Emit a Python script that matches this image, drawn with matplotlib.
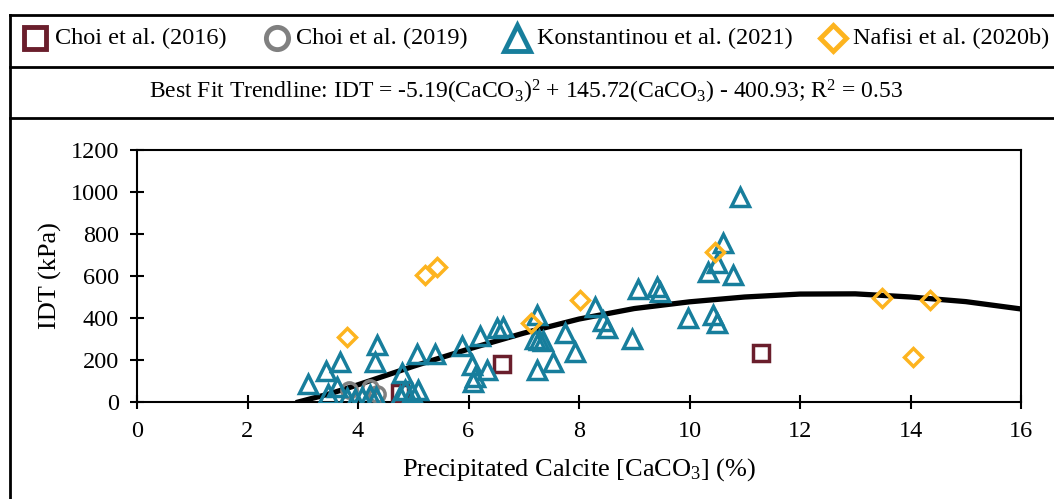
import matplotlib.pyplot as plt
from matplotlib.lines import Line2D

plt.rcParams['font.family'] = ['Liberation Serif', 'DejaVu Serif']
plt.rcParams['mathtext.fontset'] = 'custom'
plt.rcParams['mathtext.rm'] = 'Liberation Serif'
plt.rcParams['mathtext.it'] = 'Liberation Serif:italic'

# Choi et al. (2016)
choi16_x = [4.76, 6.61, 11.3]
choi16_y = [45, 180, 232]

# Choi et al. (2019)
choi19_x = [3.83, 4.22, 4.35]
choi19_y = [57, 67, 40]

# Konstantinou et al. (2021)
kons_x = [3.10, 3.42, 3.67, 3.62, 4.34, 4.31, 3.45, 3.80, 3.95, 4.08, 4.22, 4.32,
          4.80, 4.76, 4.85, 4.98, 5.09, 5.07, 5.39, 5.88, 6.21, 6.52, 6.62,
          6.06, 6.12, 6.09, 6.33, 7.24, 7.20, 7.28, 7.35, 7.24, 7.53, 7.75,
          7.93, 8.29, 8.43, 8.51, 8.96, 9.07, 9.41, 9.47, 9.97, 10.33, 10.42,
          10.50, 10.50, 10.61, 10.79, 10.91]
kons_y = [88, 150, 192, 72, 271, 190, 40, 20, 12, 25, 33, 25,
          138, 30, 57, 43, 57, 230, 230, 266, 315, 352, 357,
          176, 119, 95, 152, 415, 300, 295, 290, 152, 190, 329,
          240, 452, 385, 352, 298, 536, 548, 524, 400, 619, 414,
          376, 662, 757, 605, 976]

# Nafisi et al. (2020b)
nafisi_x = [3.80, 5.22, 5.43, 7.13, 8.02, 10.46, 13.48, 14.05, 14.35]
nafisi_y = [310, 607, 645, 376, 486, 716, 493, 214, 488]

# best fit trendline as drawn
trend_x = [2.92, 3.5, 4, 5, 6, 7, 8, 9, 10, 11, 12, 13, 14, 15, 16]
trend_y = [0, 40, 82, 170, 252, 328, 395, 445, 477, 500, 514, 515, 500, 478, 443]

labels = ['Choi et al. (2016)', 'Choi et al. (2019)', 'Konstantinou et al. (2021)',
          'Nafisi et al. (2020b)']

maroon = '#6A1E2C'
grey = '#808080'
teal = '#177E9C'
amber = '#FDB41F'

W, H = 1054, 499
fig = plt.figure(figsize=(W / 100, H / 100), dpi=100)
ax = fig.add_axes([137 / W, 1 - 402 / H, (1021 - 137) / W, (402 - 150) / H])

ax.plot(trend_x, trend_y, color='black', lw=3.8, zorder=1)
mkw = dict(ls='none', mfc='none', mew=2.5, zorder=3)
ax.plot(choi16_x, choi16_y, marker='s', ms=11, mec=maroon, **mkw)
ax.plot(choi19_x, choi19_y, marker='o', ms=11, mec=grey, **mkw)
ax.plot(kons_x, kons_y, marker='^', ms=13.5, mec=teal, **mkw)
ax.plot(nafisi_x, nafisi_y, marker='D', ms=9.5, mec=amber, **mkw)

ax.set_xlim(0, 16)
ax.set_ylim(0, 1200)
ax.set_xticks(range(0, 17, 2))
ax.set_yticks(range(0, 1201, 200))
ax.tick_params(direction='inout', length=10, width=1.5, labelsize=17.5)
ax.tick_params(axis='x', pad=9)
ax.tick_params(axis='y', pad=8)
for s in ax.spines.values():
    s.set_linewidth(1.5)
ax.set_xlabel(r'Precipitated Calcite [CaCO$_\mathrm{3}$] (%)', fontsize=19, labelpad=10)
ax.set_ylabel('IDT (kPa)', fontsize=19, labelpad=6)

# outer frame and header boxes
for yy in [1 - 15 / H, 1 - 67 / H, 1 - 118 / H]:
    fig.add_artist(Line2D([10 / W, 1], [yy, yy], color='black', lw=2, transform=fig.transFigure))
fig.add_artist(Line2D([10 / W, 10 / W], [0, 1 - 15 / H], color='black', lw=2,
                      transform=fig.transFigure))

# legend row, placed item by item
leg_markers = [('s', 16, maroon), ('o', 16, grey), ('^', 19, teal), ('D', 13, amber)]
marker_px = [35, 277, 517, 833]
text_px = [55, 296, 537, 853]
ly = 1 - 38 / H
for (m, ms, c), mx, tx, lab in zip(leg_markers, marker_px, text_px, labels):
    fig.add_artist(Line2D([mx / W], [ly], marker=m, ms=ms, mec=c, mfc='none', mew=3.5,
                          ls='none', transform=fig.transFigure))
    fig.text(tx / W, ly, lab, ha='left', va='center', fontsize=17.5)

fig.text(526 / W, 1 - 92 / H,
         r'Best Fit Trendline: IDT = -5.19(CaCO$_\mathrm{3}$)$^\mathrm{2}$ + 145.72(CaCO$_\mathrm{3}$) - 400.93; R$^\mathrm{2}$ = 0.53',
         ha='center', va='center', fontsize=17)

fig.savefig('out.png', dpi=100)
